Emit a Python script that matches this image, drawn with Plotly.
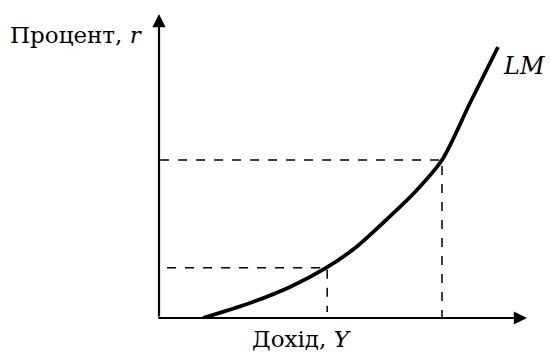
import plotly.graph_objects as go

# LM curve (income Y, interest rate r)
income = [1.196, 2.473, 3.560, 4.538, 5.326, 6.141, 6.957, 7.690, 8.451, 9.212]
rate = [0.000, 0.395, 0.816, 1.316, 1.842, 2.553, 3.316, 4.158, 5.658, 7.132]

# points marked with dashed guides
point_y = [4.57, 7.69]
point_r = [1.32, 4.16]
guide_start = [0.22, 0.03]
guide_floor = [0.16, 0.0]

FONT = "DejaVu Serif"

fig = go.Figure()

# dashed guides
for px_, pr, gs, gf in zip(point_y, point_r, guide_start, guide_floor):
    fig.add_trace(go.Scatter(
        x=[gs, px_, px_], y=[pr, pr, gf],
        mode="lines",
        line=dict(color="black", width=1.5, dash="dash"),
        hoverinfo="skip"
    ))

# LM curve
fig.add_trace(go.Scatter(
    x=income, y=rate,
    mode="lines",
    line=dict(color="black", width=3.8, shape="spline", smoothing=0.8),
    hoverinfo="skip"
))

# axes with arrows
fig.add_annotation(x=0, y=8, ax=0, ay=0, xref="x", yref="y", axref="x", ayref="y",
                   showarrow=True, arrowhead=2, arrowsize=1.2, arrowwidth=2.2,
                   arrowcolor="black", text="")
fig.add_annotation(x=10, y=0, ax=-0.06, ay=0, xref="x", yref="y", axref="x", ayref="y",
                   showarrow=True, arrowhead=2, arrowsize=1.2, arrowwidth=2.2,
                   arrowcolor="black", text="")

# labels
fig.add_annotation(x=-0.038, y=0.93, xref="paper", yref="paper", text="Процент, <i>r</i>",
                   showarrow=False, xanchor="right", yanchor="middle",
                   font=dict(family=FONT, size=23, color="black"))
fig.add_annotation(x=0.389, y=-0.07, xref="paper", yref="paper", text="Дохід, <i>Y</i>",
                   showarrow=False, xanchor="center", yanchor="middle",
                   font=dict(family=FONT, size=23, color="black"))
fig.add_annotation(x=0.93, y=0.83, xref="paper", yref="paper", text="<i>LM</i>",
                   showarrow=False, xanchor="left", yanchor="middle",
                   font=dict(family=FONT, size=24, color="black"))

fig.update_layout(
    width=551, height=353,
    margin=dict(l=159, r=24, t=14, b=35),
    paper_bgcolor="white", plot_bgcolor="white",
    showlegend=False,
    font=dict(family=FONT),
    xaxis=dict(range=[0, 10], visible=False, fixedrange=True),
    yaxis=dict(range=[0, 8], visible=False, fixedrange=True),
)

fig.write_html("out.html", config={"displayModeBar": False},
               post_script="document.body.style.margin='0';")
